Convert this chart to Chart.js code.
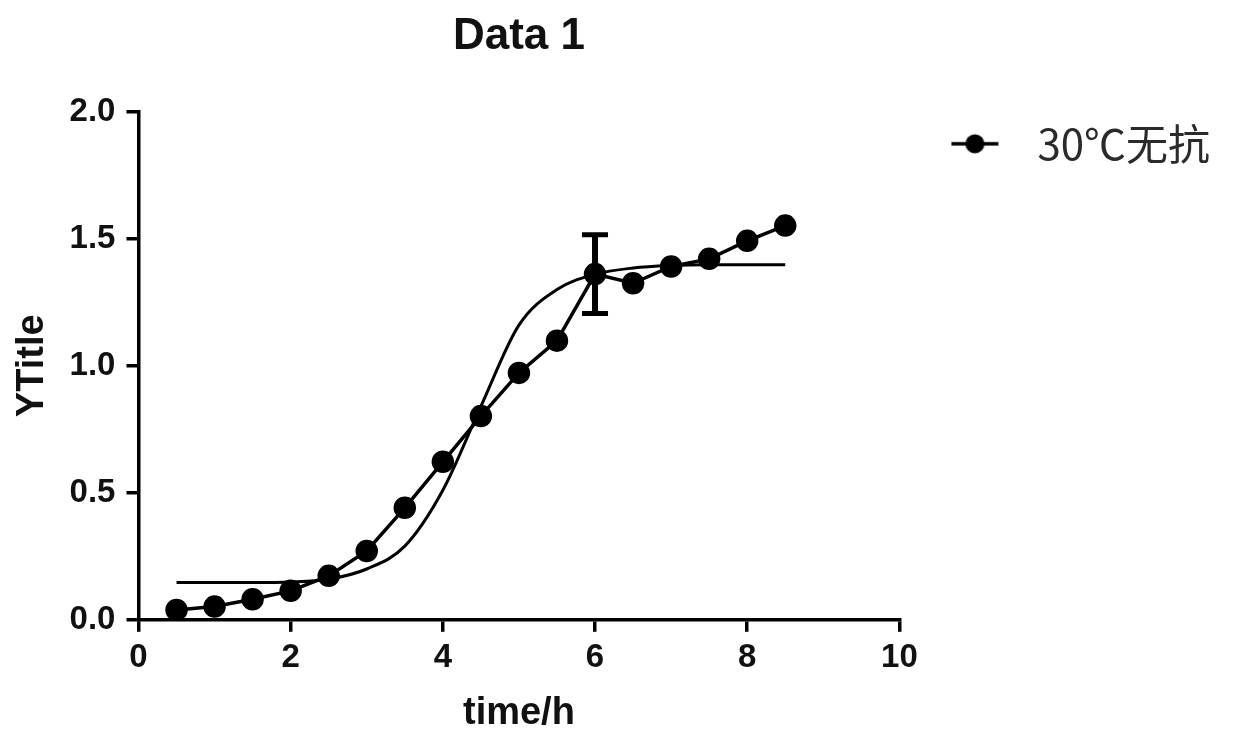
<!DOCTYPE html>
<html>
<head>
<meta charset="utf-8">
<script src="https://cdn.jsdelivr.net/npm/chart.js@4"></script>
<style>
  body { margin: 0; background: #fff; }
  #wrap { width: 1235px; height: 736px; }
</style>
</head>
<body>
<div id="wrap"><canvas id="myChart"></canvas></div>
<script>
const timeH = [0.5, 1, 1.5, 2, 2.5, 3, 3.5, 4, 4.5, 5, 5.5, 6, 6.5, 7, 7.5, 8, 8.5];
const od = [0.039, 0.052, 0.081, 0.114, 0.173, 0.271, 0.441, 0.622, 0.802, 0.972, 1.099, 1.361, 1.325, 1.391, 1.421, 1.492, 1.552];
// only the 6 h point shows a visible bar, the rest hide behind the dots
const sd = [0, 0, 0, 0, 0, 0, 0, 0, 0, 0, 0, 0.155, 0, 0, 0, 0, 0];

// sigmoid fit
const fitX = [0.5, 1, 1.5, 2, 2.5, 3, 3.5, 4, 4.5, 5, 5.5, 6, 6.5, 7, 7.5, 8, 8.5];
const fitY = [0.147, 0.147, 0.147, 0.149, 0.16, 0.2, 0.29, 0.51, 0.84, 1.16, 1.3, 1.36, 1.385, 1.395, 1.398, 1.398, 1.398];

const xTicks = [0, 2, 4, 6, 8, 10];
const yTicks = [0, 0.5, 1, 1.5, 2];

const seriesName = '30℃无抗';

const sans = "'Liberation Sans', Arial, sans-serif";
const cjk = "'Noto Sans CJK SC', 'Liberation Sans', sans-serif";

// legend icon: short line with a dot
const legendIcon = document.createElement('canvas');
legendIcon.width = 106;
legendIcon.height = 22;
const ic = legendIcon.getContext('2d');
ic.strokeStyle = '#000';
ic.lineWidth = 3.5;
ic.beginPath();
ic.moveTo(41, 11);
ic.lineTo(88, 11);
ic.stroke();
ic.fillStyle = '#000';
ic.beginPath();
ic.arc(64.5, 11, 9.5, 0, Math.PI * 2);
ic.fill();

const errorBars = {
  id: 'errorBars',
  afterDatasetsDraw(chart) {
    const { ctx, scales: { x, y } } = chart;
    ctx.save();
    ctx.strokeStyle = '#000';
    ctx.lineCap = 'butt';
    sd.forEach((s, i) => {
      if (!s) return;
      const px = x.getPixelForValue(timeH[i]);
      const top = y.getPixelForValue(od[i] + s);
      const bottom = y.getPixelForValue(od[i] - s);
      ctx.lineWidth = 6;
      ctx.beginPath();
      ctx.moveTo(px, top);
      ctx.lineTo(px, bottom);
      ctx.stroke();
      ctx.lineWidth = 5;
      ctx.beginPath();
      ctx.moveTo(px - 13, top);
      ctx.lineTo(px + 13, top);
      ctx.moveTo(px - 13, bottom);
      ctx.lineTo(px + 13, bottom);
      ctx.stroke();
    });
    ctx.restore();
  },
};

const ctx = document.getElementById('myChart');

new Chart(ctx, {
  type: 'scatter',
  data: {
    datasets: [
      {
        label: seriesName,
        data: timeH.map((t, i) => ({ x: t, y: od[i] })),
        showLine: true,
        borderColor: '#000',
        backgroundColor: '#000',
        borderWidth: 3.5,
        pointRadius: 9.5,
        pointHoverRadius: 9.5,
        tension: 0,
      },
      {
        label: 'fit',
        data: fitX.map((t, i) => ({ x: t, y: fitY[i] })),
        showLine: true,
        borderColor: '#000',
        borderWidth: 3,
        pointRadius: 0,
        cubicInterpolationMode: 'monotone',
      },
    ],
  },
  options: {
    responsive: true,
    maintainAspectRatio: false,
    animation: false,
    layout: { padding: { left: 10, right: 15, top: 0, bottom: 0 } },
    plugins: {
      title: {
        display: true,
        text: 'Data 1',
        fullSize: false,
        color: '#111',
        font: { family: sans, size: 44, weight: 'bold' },
        padding: { top: 10, bottom: 49 },
      },
      legend: {
        position: 'right',
        align: 'start',
        fullSize: false,
        maxWidth: 420,
        labels: {
          usePointStyle: true,
          pointStyle: legendIcon,
          pointStyleWidth: 106,
          padding: 11,
          color: '#2a2a2a',
          font: { family: cjk, size: 42 },
          filter: (item) => item.datasetIndex === 0,
        },
      },
      tooltip: { enabled: false },
    },
    scales: {
      x: {
        type: 'linear',
        min: 0,
        max: 10,
        afterBuildTicks: (axis) => {
          axis.ticks = xTicks.map((v) => ({ value: v }));
        },
        border: { display: true, color: '#000', width: 3.5 },
        grid: { drawOnChartArea: false, tickLength: 12, color: '#000', lineWidth: 3.5 },
        ticks: {
          padding: 6,
          color: '#111',
          font: { family: sans, size: 33, weight: 'bold' },
        },
        title: {
          display: true,
          text: 'time/h',
          color: '#111',
          font: { family: sans, size: 38, weight: 'bold' },
          padding: { top: 7, bottom: 0 },
        },
      },
      y: {
        type: 'linear',
        min: 0,
        max: 2,
        afterBuildTicks: (axis) => {
          axis.ticks = yTicks.map((v) => ({ value: v }));
        },
        border: { display: true, color: '#000', width: 3.5 },
        grid: { drawOnChartArea: false, tickLength: 12, color: '#000', lineWidth: 3.5 },
        ticks: {
          padding: 11,
          color: '#111',
          font: { family: sans, size: 33, weight: 'bold' },
          callback: (v) => v.toFixed(1),
        },
        title: {
          display: true,
          text: 'YTitle',
          color: '#111',
          font: { family: sans, size: 38, weight: 'bold' },
          padding: { top: 0, bottom: 3 },
        },
      },
    },
  },
  plugins: [errorBars],
});
</script>
</body>
</html>
